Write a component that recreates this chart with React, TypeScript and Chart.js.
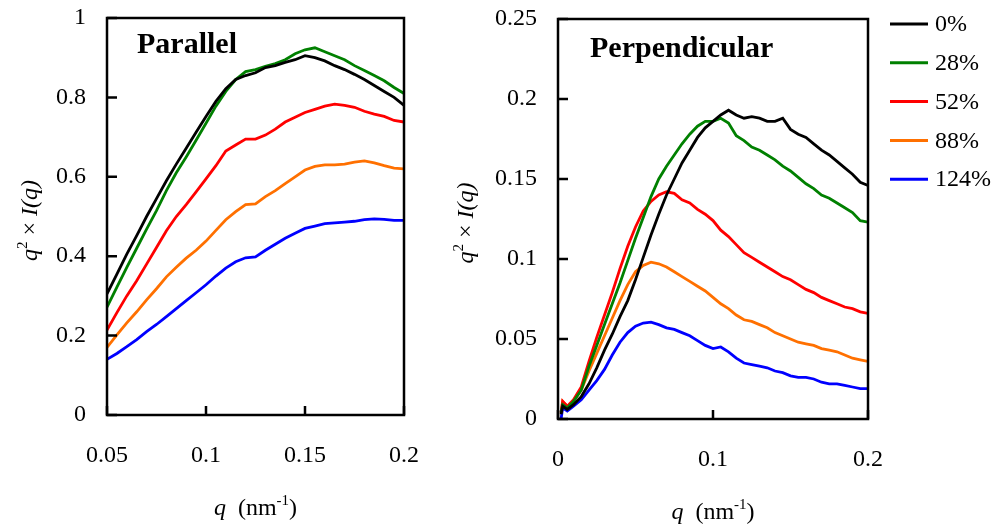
import React, { useEffect, useRef } from "react";
import { Chart, registerables } from "chart.js";

Chart.register(...registerables);

const seriesLabels = ["0%", "28%", "52%", "88%", "124%"];
const seriesColors = ["#000000", "#008000", "#ff0000", "#ff7000", "#0000ff"];

// Parallel panel
const qParallel = [
  0.05, 0.055, 0.06, 0.065, 0.07, 0.075, 0.08, 0.085, 0.09, 0.095, 0.1,
  0.105, 0.11, 0.115, 0.12, 0.125, 0.13, 0.135, 0.14, 0.145, 0.15,
  0.155, 0.16, 0.165, 0.17, 0.175, 0.18, 0.185, 0.19, 0.195, 0.2,
];
const par0 = [
  0.305, 0.355, 0.405, 0.452, 0.5, 0.545, 0.59, 0.632, 0.672, 0.712, 0.752,
  0.79, 0.822, 0.845, 0.855, 0.862, 0.875, 0.88, 0.888, 0.895, 0.905,
  0.9, 0.892, 0.88, 0.87, 0.858, 0.845, 0.83, 0.815, 0.8, 0.78,
];
const par28 = [
  0.272, 0.322, 0.372, 0.42, 0.468, 0.515, 0.565, 0.61, 0.65, 0.692, 0.735,
  0.778, 0.815, 0.845, 0.865, 0.87, 0.878, 0.885, 0.895, 0.91, 0.92,
  0.925, 0.915, 0.905, 0.895, 0.88, 0.868, 0.855, 0.842, 0.825, 0.81,
];
const par52 = [
  0.214, 0.258, 0.3, 0.338, 0.38, 0.422, 0.464, 0.5, 0.53, 0.562, 0.595,
  0.628, 0.665, 0.68, 0.695, 0.695, 0.705, 0.72, 0.738, 0.75, 0.762,
  0.77, 0.778, 0.783, 0.78, 0.775, 0.765, 0.758, 0.752, 0.742, 0.738,
];
const par88 = [
  0.17, 0.202, 0.232, 0.26, 0.29, 0.318, 0.348, 0.372, 0.395, 0.415, 0.438,
  0.465, 0.492, 0.512, 0.53, 0.532, 0.55, 0.565, 0.583, 0.6, 0.617,
  0.626, 0.63, 0.63, 0.632, 0.637, 0.64, 0.635, 0.628, 0.622, 0.62,
];
const par124 = [
  0.14, 0.155, 0.172, 0.19, 0.21, 0.228, 0.248, 0.268, 0.288, 0.308, 0.328,
  0.35, 0.37, 0.386, 0.396, 0.398, 0.415, 0.43, 0.445, 0.458, 0.47,
  0.476, 0.482, 0.484, 0.486, 0.488, 0.492, 0.494, 0.493, 0.49, 0.49,
];

// Perpendicular panel
const qPerp = [
  0.002, 0.003, 0.006, 0.01, 0.015, 0.02, 0.025, 0.03, 0.035, 0.04, 0.045,
  0.05, 0.055, 0.06, 0.065, 0.07, 0.075, 0.08, 0.085, 0.09, 0.095, 0.1,
  0.105, 0.11, 0.115, 0.12, 0.125, 0.13, 0.135, 0.14, 0.145, 0.15, 0.155,
  0.16, 0.165, 0.17, 0.175, 0.18, 0.185, 0.19, 0.195, 0.2,
];
const perp0 = [
  0.003, 0.008, 0.006, 0.009, 0.014, 0.022, 0.032, 0.043, 0.053, 0.064, 0.074,
  0.087, 0.101, 0.115, 0.128, 0.14, 0.15, 0.16, 0.168, 0.176, 0.182, 0.186,
  0.19, 0.193, 0.19, 0.188, 0.189, 0.188, 0.186, 0.186, 0.188, 0.181, 0.178,
  0.176, 0.172, 0.168, 0.165, 0.161, 0.157, 0.153, 0.148, 0.146,
];
const perp28 = [
  0.004, 0.009, 0.007, 0.011, 0.018, 0.033, 0.046, 0.059, 0.072, 0.085, 0.099,
  0.113, 0.126, 0.139, 0.15, 0.158, 0.165, 0.172, 0.178, 0.183, 0.186, 0.186,
  0.188, 0.185, 0.177, 0.174, 0.17, 0.168, 0.165, 0.162, 0.158, 0.155, 0.151,
  0.147, 0.144, 0.14, 0.138, 0.135, 0.132, 0.129, 0.124, 0.123,
];
const perp52 = [
  0.004, 0.011, 0.008, 0.012, 0.02, 0.036, 0.051, 0.065, 0.079, 0.094, 0.108,
  0.12, 0.13, 0.136, 0.14, 0.142, 0.141, 0.137, 0.135, 0.131, 0.128, 0.124,
  0.118, 0.114, 0.109, 0.104, 0.101, 0.098, 0.095, 0.092, 0.089, 0.087, 0.084,
  0.081, 0.079, 0.076, 0.074, 0.072, 0.07, 0.069, 0.067, 0.066,
];
const perp88 = [
  0.004, 0.011, 0.008, 0.011, 0.018, 0.03, 0.041, 0.052, 0.063, 0.074, 0.084,
  0.092, 0.096, 0.098, 0.097, 0.095, 0.092, 0.089, 0.086, 0.083, 0.08, 0.076,
  0.072, 0.069, 0.065, 0.062, 0.061, 0.059, 0.057, 0.054, 0.052, 0.05, 0.048,
  0.047, 0.046, 0.044, 0.043, 0.042, 0.04, 0.038, 0.037, 0.036,
];
const perp124 = [
  0.0, 0.007, 0.005, 0.008, 0.012, 0.018, 0.024, 0.031, 0.04, 0.048, 0.054,
  0.058, 0.06, 0.0605, 0.059, 0.057, 0.056, 0.054, 0.052, 0.049, 0.046, 0.044,
  0.045, 0.042, 0.038, 0.035, 0.034, 0.033, 0.032, 0.03, 0.029, 0.027, 0.026,
  0.026, 0.025, 0.023, 0.022, 0.022, 0.021, 0.02, 0.019, 0.019,
];

const SERIF = '"Liberation Serif", "Times New Roman", serif';

const fmt = (v: number) => String(Number(Number(v).toFixed(4)));

type Seg = { text: string; italic?: boolean; sup?: boolean };

function drawRich(ctx: CanvasRenderingContext2D, segs: Seg[], size: number, x: number, y: number) {
  const supSize = Math.round(size * 0.62);
  const fontFor = (s: Seg) => `${s.italic ? "italic " : ""}${s.sup ? supSize : size}px ${SERIF}`;
  let total = 0;
  const widths = segs.map((s) => {
    ctx.font = fontFor(s);
    const w = ctx.measureText(s.text).width;
    total += w;
    return w;
  });
  let cx = x - total / 2;
  ctx.textAlign = "left";
  ctx.textBaseline = "alphabetic";
  segs.forEach((s, i) => {
    ctx.font = fontFor(s);
    ctx.fillText(s.text, cx, s.sup ? y - size * 0.42 : y);
    cx += widths[i];
  });
}

const panelDecor = {
  id: "panelDecor",
  afterDatasetsDraw(chart: any, _args: any, opts: any) {
    const { ctx, chartArea: a, scales } = chart;
    ctx.save();
    ctx.strokeStyle = "#000";
    ctx.lineWidth = 2.5;
    ctx.strokeRect(a.left, a.top, a.right - a.left, a.bottom - a.top);
    ctx.beginPath();
    scales.x.ticks.forEach((t: any) => {
      const px = scales.x.getPixelForValue(t.value);
      ctx.moveTo(px, a.bottom);
      ctx.lineTo(px, a.bottom - 9);
    });
    scales.y.ticks.forEach((t: any) => {
      const py = scales.y.getPixelForValue(t.value);
      ctx.moveTo(a.left, py);
      ctx.lineTo(a.left + 10, py);
    });
    ctx.stroke();

    ctx.fillStyle = "#000";
    ctx.font = `bold 30px ${SERIF}`;
    ctx.textAlign = "left";
    ctx.textBaseline = "alphabetic";
    ctx.fillText(opts.title, a.left + opts.titleDx, a.top + opts.titleDy);

    drawRich(
      ctx,
      [{ text: "q", italic: true }, { text: "  (nm" }, { text: "-1", sup: true }, { text: ")" }],
      24,
      (a.left + a.right) / 2,
      a.bottom + 100
    );

    ctx.save();
    ctx.translate(a.left - opts.yTitleGap, (a.top + a.bottom) / 2 + 4);
    ctx.rotate(-Math.PI / 2);
    drawRich(
      ctx,
      [{ text: "q", italic: true }, { text: "2", sup: true }, { text: " \u00d7 " }, { text: "I(q)", italic: true }],
      24,
      0,
      0
    );
    ctx.restore();

    if (opts.legend) {
      chart.data.datasets.forEach((ds: any, i: number) => {
        const y = a.top + 5 + i * 38.8;
        ctx.strokeStyle = ds.borderColor;
        ctx.lineWidth = 3;
        ctx.beginPath();
        ctx.moveTo(a.right + 22, y);
        ctx.lineTo(a.right + 60, y);
        ctx.stroke();
        ctx.fillStyle = "#000";
        ctx.font = `24px ${SERIF}`;
        ctx.textAlign = "left";
        ctx.textBaseline = "middle";
        ctx.fillText(ds.label, a.right + 67, y + 1);
      });
    }
    ctx.restore();
  },
};

function clearPad(s: any) {
  s.paddingTop = 0;
  s.paddingBottom = 0;
  s.paddingLeft = 0;
  s.paddingRight = 0;
}

function makeConfig(
  q: number[],
  series: number[][],
  xMin: number,
  xMax: number,
  xStep: number,
  yMax: number,
  yStep: number,
  pad: { top: number; right: number },
  yWidth: number,
  xHeight: number,
  decor: any
): any {
  return {
    type: "line",
    data: {
      datasets: series.map((vals, i) => ({
        label: seriesLabels[i],
        data: q.map((x, j) => ({ x, y: vals[j] })),
        borderColor: seriesColors[i],
        backgroundColor: seriesColors[i],
        borderWidth: 2.8,
        pointRadius: 0,
        tension: 0,
        fill: false,
      })),
    },
    options: {
      animation: false,
      responsive: false,
      maintainAspectRatio: false,
      events: [],
      layout: { padding: { left: 0, top: pad.top, right: pad.right, bottom: 0 } },
      plugins: {
        legend: { display: false },
        tooltip: { enabled: false },
        title: { display: false },
        panelDecor: decor,
      },
      scales: {
        x: {
          type: "linear",
          min: xMin,
          max: xMax,
          ticks: {
            stepSize: xStep,
            autoSkip: false,
            maxRotation: 0,
            padding: 26,
            color: "#000",
            font: { family: SERIF, size: 24 },
            callback: (v: number) => fmt(v),
          },
          grid: { display: false, drawTicks: false },
          border: { display: false },
          afterFit: (s: any) => {
            s.height = xHeight;
            clearPad(s);
          },
        },
        y: {
          type: "linear",
          min: 0,
          max: yMax,
          ticks: {
            stepSize: yStep,
            autoSkip: false,
            padding: 21,
            color: "#000",
            font: { family: SERIF, size: 24 },
            callback: (v: number) => fmt(v),
          },
          grid: { display: false, drawTicks: false },
          border: { display: false },
          afterFit: (s: any) => {
            s.width = yWidth;
            clearPad(s);
          },
        },
      },
    },
    plugins: [panelDecor],
  };
}

export default function App() {
  const leftRef = useRef<HTMLCanvasElement | null>(null);
  const rightRef = useRef<HTMLCanvasElement | null>(null);

  useEffect(() => {
    const left = new Chart(
      leftRef.current as HTMLCanvasElement,
      makeConfig(
        qParallel,
        [par0, par28, par52, par88, par124],
        0.05,
        0.2,
        0.05,
        1,
        0.2,
        { top: 18, right: 36 },
        107,
        109,
        { title: "Parallel", titleDx: 30, titleDy: 35, yTitleGap: 70, legend: false }
      )
    );
    const right = new Chart(
      rightRef.current as HTMLCanvasElement,
      makeConfig(
        qPerp,
        [perp0, perp28, perp52, perp88, perp124],
        0,
        0.2,
        0.1,
        0.25,
        0.05,
        { top: 19, right: 129 },
        118,
        105,
        { title: "Perpendicular", titleDx: 32, titleDy: 38, yTitleGap: 85, legend: true }
      )
    );
    return () => {
      left.destroy();
      right.destroy();
    };
  }, []);

  return (
    <div style={{ position: "absolute", left: 0, top: 0, width: 997, height: 524, background: "#fff" }}>
      <canvas
        ref={leftRef}
        width={440}
        height={524}
        style={{ position: "absolute", left: 0, top: 0, width: 440, height: 524 }}
      />
      <canvas
        ref={rightRef}
        width={557}
        height={524}
        style={{ position: "absolute", left: 440, top: 0, width: 557, height: 524 }}
      />
    </div>
  );
}
